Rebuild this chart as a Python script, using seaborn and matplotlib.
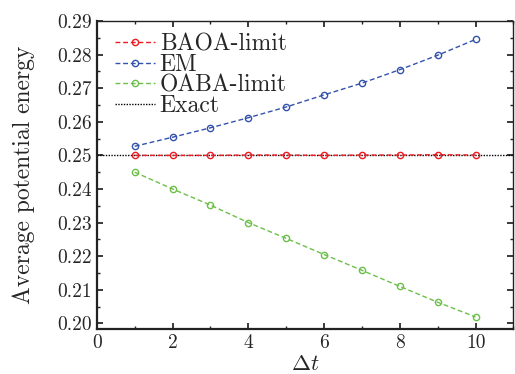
import numpy as np
import pandas as pd
import matplotlib
matplotlib.use("Agg")
import matplotlib.pyplot as plt
import seaborn as sns
from matplotlib.ticker import MultipleLocator, FormatStrFormatter

# ── data ─────────────────────────────────────────────────────
dt = [1, 2, 3, 4, 5, 6, 7, 8, 9, 10]
baoa = [0.2500, 0.2500, 0.2500, 0.2501, 0.2501, 0.2500, 0.2501, 0.2501, 0.2502, 0.2501]
em = [0.2527, 0.2554, 0.2582, 0.2612, 0.2644, 0.2680, 0.2715, 0.2755, 0.2798, 0.2845]
oaba = [0.2450, 0.2400, 0.2352, 0.2300, 0.2253, 0.2205, 0.2158, 0.2110, 0.2063, 0.2019]
exact = 0.25

series = ["BAOA-limit", "EM", "OABA-limit"]
colors = {"BAOA-limit": "#ec1c24", "EM": "#3452ad", "OABA-limit": "#6cc04a"}

df = pd.DataFrame({
    "dt": dt * 3,
    "value": baoa + em + oaba,
    "method": [s for s in series for _ in dt],
})

sns.set_theme(style="ticks")
plt.rcParams["font.family"] = ["cmr10", "DejaVu Serif"]
plt.rcParams["mathtext.fontset"] = "cm"
plt.rcParams["axes.formatter.use_mathtext"] = True

fig, ax = plt.subplots(figsize=(5.15, 3.74), dpi=100)

for name in series:
    sub = df[df["method"] == name]
    sns.lineplot(data=sub, x="dt", y="value", ax=ax, color=colors[name],
                 linestyle=(0, (3.5, 2)), lw=1.0, marker="o", markersize=4.5,
                 markerfacecolor="none", markeredgecolor=colors[name],
                 markeredgewidth=1.0, label=name)

ax.axhline(exact, color="black", linestyle=(0, (1, 1)), lw=1.0, label="Exact",
           zorder=1)

ax.set_xlim(0, 11)
ax.set_ylim(0.1983, 0.29)
ax.xaxis.set_major_locator(MultipleLocator(2))
ax.xaxis.set_minor_locator(MultipleLocator(1))
ax.yaxis.set_major_locator(MultipleLocator(0.01))
ax.yaxis.set_minor_locator(MultipleLocator(0.005))
ax.yaxis.set_major_formatter(FormatStrFormatter("%.2f"))
ax.xaxis.set_major_formatter(FormatStrFormatter("%d"))
ax.tick_params(which="both", direction="in", top=True, right=True,
               labelsize=14, color="#222222")
ax.tick_params(which="major", length=4)
ax.tick_params(which="minor", length=2)
for sp in ax.spines.values():
    sp.set_linewidth(1.0)
    sp.set_color("#222222")
ax.spines["left"].set_linewidth(1.6)
ax.spines["bottom"].set_linewidth(1.6)

ax.set_xlabel(r"$\Delta t$", fontsize=16.5, labelpad=2)
ax.set_ylabel("Average potential energy", fontsize=17, labelpad=16)

leg = ax.legend(loc="upper left", bbox_to_anchor=(0.014, 1.0), frameon=False,
                fontsize=17, handlelength=1.7, handletextpad=0.2,
                labelspacing=-0.06, borderaxespad=0.12)

fig.subplots_adjust(left=0.188, right=0.997, top=0.944, bottom=0.12)
fig.savefig("out.png", dpi=100)
